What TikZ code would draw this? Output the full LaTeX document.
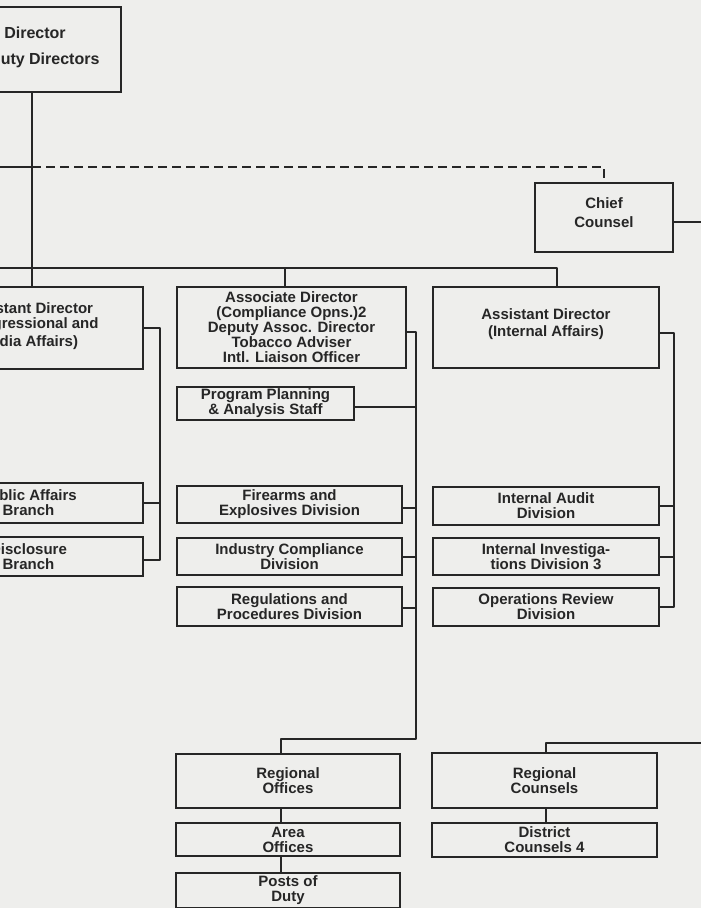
\documentclass[tikz,border=0pt]{standalone}
\usepackage{fontspec}
\setmainfont{Liberation Sans}
\usetikzlibrary{calc}
\definecolor{paper}{RGB}{238,238,236}
\definecolor{ink}{RGB}{38,38,38}
\tikzset{
 bx/.style={draw=ink, line width=1.8pt, inner sep=0pt, align=center, text=ink,
   font=\bfseries\fontsize{15}{15}\selectfont},
 ln/.style={draw=ink, line width=2pt, line join=round},
 dln/.style={ln, dash pattern=on 9pt off 5pt}
}
\newcommand\bx[6]{\node[bx, minimum width={(#4)-(#2)}, minimum height={(#5)-(#3)}] (#1) at ({((#2)+(#4))/2},{((#3)+(#5))/2}) {#6};}

\begin{document}
\begin{tikzpicture}[x=1pt,y=-1pt]
\clip (0,0) rectangle (701,908);
\fill[paper] (0,0) rectangle (701,908);

% boxes
\bx{dir}{-51}{7}{121}{92}{\fontsize{16}{16}\selectfont Director\\[11pt]\fontsize{16}{16}\selectfont Deputy Directors\\[-8pt]}
\bx{chief}{535}{183}{673}{252}{Chief\\[4pt]Counsel\\[-5pt]}
\bx{acm}{-86}{287}{143}{369}{Assistant Director\\(Congressional and\\[3pt]Media Affairs)\\[-8pt]}
\bx{pab}{-86}{483}{143}{523}{Public Affairs\\Branch}
\bx{disc}{-86}{537}{143}{576}{Disclosure\\Branch}
\bx{assoc}{177}{287}{406}{368}{Associate Director\\(Compliance Opns.)2\\Deputy Assoc. Director\\Tobacco Adviser\\Intl. Liaison Officer}
\bx{ppa}{177}{387}{354}{420}{Program Planning\\\& Analysis Staff}
\bx{fire}{177}{486}{402}{523}{Firearms and\\Explosives Division}
\bx{ind}{177}{538}{402}{575}{Industry Compliance\\Division}
\bx{reg}{177}{587}{402}{626}{Regulations and\\Procedures Division}
\bx{ia}{433}{287}{659}{368}{Assistant Director\\[2pt](Internal Affairs)\\[-6pt]}
\bx{audit}{433}{487}{659}{525}{Internal Audit\\Division}
\bx{invest}{433}{538}{659}{575}{Internal Investiga-\\tions Division 3}
\bx{ops}{433}{588}{659}{626}{Operations Review\\Division}
\bx{ro}{176}{754}{400}{808}{Regional\\Offices}
\bx{ao}{176}{823}{400}{856}{Area\\Offices}
\bx{pod}{176}{873}{400}{908}{Posts of\\Duty}
\bx{rc}{432}{753}{657}{808}{Regional\\Counsels}
\bx{dc}{432}{823}{657}{857}{District\\Counsels 4}

% helper coordinates
\coordinate (v) at (32,0);
\coordinate (sL) at (0,167);
\coordinate (dL) at (32,167);
\coordinate (bL) at (0,268);
\coordinate (bM) at (285,268);
\coordinate (bR) at (557,268);
\coordinate (cE) at (701,222);
\coordinate (lv) at (160,0);
\coordinate (mv) at (416,0);
\coordinate (mb) at (281,739);
\coordinate (rv) at (674,0);
\coordinate (rE) at (701,743);
\coordinate (rb) at (546,743);

% top connectors
\draw[ln] (dir.south -| v) -- (acm.north -| v);
\draw[ln] (sL) -- (dL);
\draw[dln] (dL) -| (chief.north);
\draw[ln] ([yshift=-4.5pt]chief.east) -- ([yshift=-4.5pt]chief.east -| cE);
\draw[ln] (bL) -- (bR) -- (ia.north -| bR);
\draw[ln] (bM) -- (assoc.north -| bM);

% left column
\draw[ln] (acm.east) -- (acm.east -| lv) -- ([yshift=-3pt]disc.east -| lv) -- ([yshift=-3pt]disc.east);
\draw[ln] (pab.east) -- (pab.east -| lv);

% middle column
\draw[ln] ([yshift=-4.5pt]assoc.east) -- ([yshift=-4.5pt]assoc.east -| mv) -- (mb -| mv) -- (mb) -- (ro.north -| mb);
\draw[ln] ([yshift=-3pt]ppa.east) -- ([yshift=-3pt]ppa.east -| mv);
\draw[ln] ([yshift=-3pt]fire.east) -- ([yshift=-3pt]fire.east -| mv);
\draw[ln] (ind.east) -- (ind.east -| mv);
\draw[ln] ([yshift=-1.5pt]reg.east) -- ([yshift=-1.5pt]reg.east -| mv);
\draw[ln] (ro.south -| mb) -- (ao.north -| mb);
\draw[ln] (ao.south -| mb) -- (pod.north -| mb);

% right column
\draw[ln] ([yshift=-5pt]ia.east) -- ([yshift=-5pt]ia.east -| rv) -- (ops.east -| rv) -- (ops.east);
\draw[ln] (audit.east) -- (audit.east -| rv);
\draw[ln] (invest.east) -- (invest.east -| rv);
\draw[ln] (rE) -- (rb) -- (rc.north -| rb);
\draw[ln] (rc.south -| rb) -- (dc.north -| rb);
\end{tikzpicture}
\end{document}
